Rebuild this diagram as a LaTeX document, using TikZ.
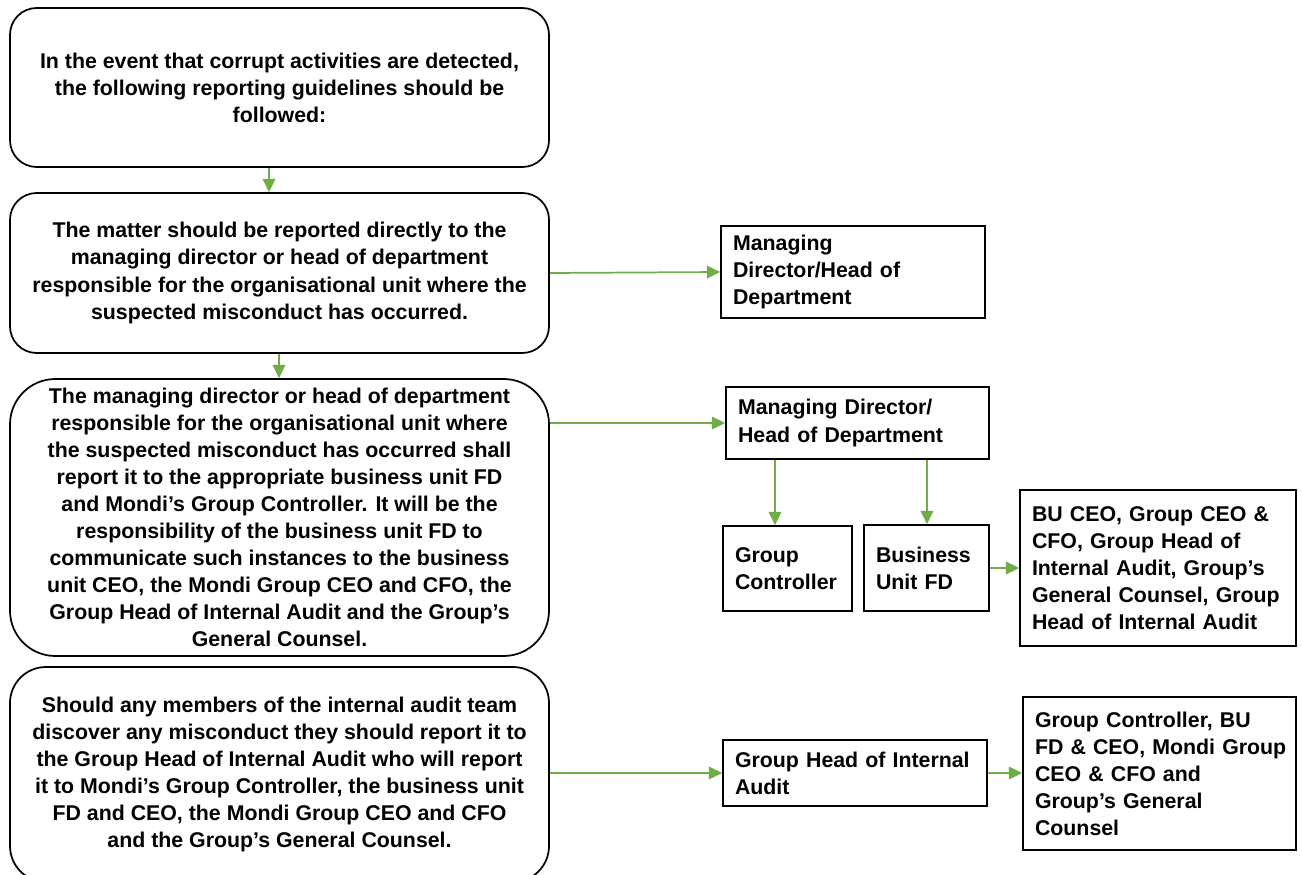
\documentclass[tikz,border=0pt]{standalone}
\usepackage{fontspec}
\setmainfont{Liberation Sans}
\usetikzlibrary{arrows.meta,calc}
\definecolor{arrgreen}{HTML}{70AD47}
\tikzset{
  x=0.75pt, y=-0.75pt,
  every node/.style={font=\fontsize{16}{20.3}\selectfont\bfseries},
  mainbox/.style={draw=black, line width=1.3pt, fill=white, align=center,
    minimum width=404.25pt, inner sep=0pt},
  sidebox/.style={draw=black, line width=1.3pt, fill=white, align=left,
    inner xsep=9pt, inner ysep=0pt},
  arr/.style={draw=arrgreen, line width=1.3pt, -{Triangle[length=10pt,width=9.5pt]}}
}
\begin{document}
\begin{tikzpicture}
\useasboundingbox (0,0) rectangle (1302,874);
\fill[white] (0,0) rectangle (1302,874);
\clip (0,0) rectangle (1302,874);

% left column
\node[mainbox, rounded corners=20pt, minimum height=119.25pt] (b1) at (279.5,87.5)
  {In the event that corrupt activities are detected,\\the following reporting guidelines should be\\followed:};
\node[mainbox, rounded corners=20pt, minimum height=120pt] (b2) at (279.5,273)
  {The matter should be reported directly to the\\managing director or head of department\\responsible for the organisational unit where the\\suspected misconduct has occurred.};
\node[mainbox, rounded corners=34pt, minimum height=207.75pt] (b3) at (279.5,517.5)
  {The managing director or head of department\\responsible for the organisational unit where\\the suspected misconduct has occurred shall\\report it to the appropriate business unit FD\\and Mondi’s Group Controller. It will be the\\responsibility of the business unit FD to\\communicate such instances to the business\\unit CEO, the Mondi Group CEO and CFO, the\\Group Head of Internal Audit and the Group’s\\General Counsel.};
\node[mainbox, rounded corners=27pt, minimum height=161.25pt] (b4) at (279.5,774.5)
  {Should any members of the internal audit team\\discover any misconduct they should report it to\\the Group Head of Internal Audit who will report\\it to Mondi’s Group Controller, the business unit\\FD and CEO, the Mondi Group CEO and CFO\\and the Group’s General Counsel.};

% right side
\node[sidebox, text width=180pt, minimum height=69pt] (md1) at (853,272)
  {Managing\\Director/Head of\\Department};
\node[sidebox, text width=179.25pt, minimum height=54pt] (md2) at (857.5,423)
  {Managing Director/\\Head of Department};
\node[sidebox, text width=78.75pt, minimum height=63.75pt] (gc) at (787.5,568.5)
  {Group\\Controller};
\node[sidebox, text width=75.75pt, minimum height=64.5pt] (bufd) at (926.5,568)
  {Business\\Unit FD};
\node[sidebox, text width=189pt, minimum height=117pt] (bu) at (1158,568)
  {\mbox{BU CEO, Group CEO \&}\\\mbox{CFO, Group Head of}\\\mbox{Internal Audit, Group’s}\\\mbox{General Counsel, Group}\\\mbox{Head of Internal Audit}};
\node[sidebox, text width=180pt, minimum height=49.5pt] (gh) at (855,773)
  {Group Head of Internal\\Audit};
\node[sidebox, text width=186.75pt, minimum height=114.75pt] (gcb) at (1159.5,773.5)
  {\mbox{Group Controller, BU}\\\mbox{FD \& CEO, Mondi Group}\\\mbox{CEO \& CFO and}\\\mbox{Group’s General}\\\mbox{Counsel}};

% helper x positions
\coordinate (v1) at (269,0);
\coordinate (v2) at (279,0);
\coordinate (v3) at (775,0);
\coordinate (v4) at (927,0);

% connectors
\draw[arr] (b1.south -| v1) -- (b2.north -| v1);
\draw[arr] (b2.south -| v2) -- (b3.north -| v2);
\draw[arr] (b2.east) -- (md1.west);
\draw[arr] (b3.east |- md2.west) -- (md2.west);
\draw[arr] (md2.south -| v3) -- (gc.north -| v3);
\draw[arr] (md2.south -| v4) -- (bufd.north -| v4);
\draw[arr] (bufd.east) -- (bu.west |- bufd.east);
\draw[arr] (b4.east |- gh.west) -- (gh.west);
\draw[arr] (gh.east) -- (gcb.west |- gh.east);
\end{tikzpicture}
\end{document}
